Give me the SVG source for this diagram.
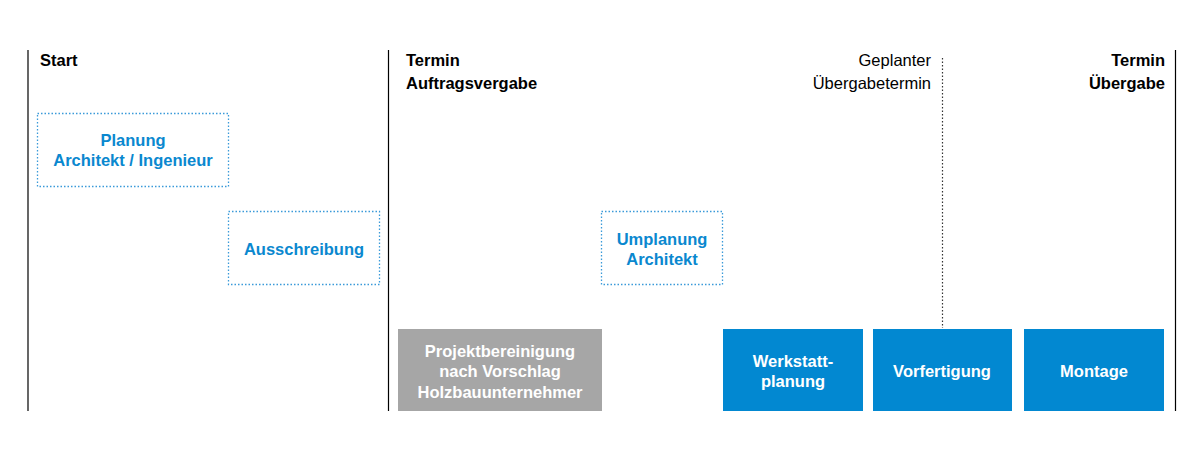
<svg xmlns="http://www.w3.org/2000/svg" width="1200" height="470" viewBox="0 0 1200 470">
<style>
text{font-family:"Liberation Sans",Arial,sans-serif;font-size:16.5px;font-weight:bold}
.h{fill:#000}
.n{font-weight:normal}
.dot{fill:#fff;stroke:#3a9ad9;stroke-width:1.3;stroke-dasharray:1.5 2}
.bt{fill:#0a88cf;text-anchor:middle}
.wt{fill:#fff;text-anchor:middle}
.fb{fill:#0288d1}
.fg{fill:#a6a6a6}
.ln{stroke:#000;stroke-width:1.2}
</style>
<rect width="1200" height="470" fill="#fff"/>
<g id="connectors">
<line class="ln" x1="28" y1="50" x2="28" y2="411"/>
<line class="ln" x1="388.5" y1="50" x2="388.5" y2="411"/>
<line class="ln" x1="1175.5" y1="50" x2="1175.5" y2="411"/>
<line x1="942.5" y1="58" x2="942.5" y2="328" stroke="#333" stroke-width="1.2" stroke-dasharray="1.5 2"/>
</g>
<g id="labels">
<text class="h" x="40" y="66">Start</text>
<text class="h" x="406" y="66">Termin</text>
<text class="h" x="406" y="89">Auftragsvergabe</text>
<text class="h n" x="931" y="66" text-anchor="end">Geplanter</text>
<text class="h n" x="931" y="89" text-anchor="end">Übergabetermin</text>
<text class="h" x="1165" y="66" text-anchor="end">Termin</text>
<text class="h" x="1165" y="89" text-anchor="end">Übergabe</text>
</g>
<g id="planung"><rect class="dot" x="37.5" y="113.5" width="191" height="73"/>
<text class="bt" x="133" y="146">Planung</text><text class="bt" x="133" y="166">Architekt / Ingenieur</text></g>
<g id="ausschreibung"><rect class="dot" x="228.5" y="211.5" width="151" height="73"/>
<text class="bt" x="304" y="255">Ausschreibung</text></g>
<g id="umplanung"><rect class="dot" x="601.5" y="211.5" width="121" height="73"/>
<text class="bt" x="662" y="245">Umplanung</text><text class="bt" x="662" y="265">Architekt</text></g>
<g id="projekt"><rect class="fg" x="398" y="329" width="204" height="82"/>
<text class="wt" x="500" y="357">Projektbereinigung</text><text class="wt" x="500" y="377">nach Vorschlag</text><text class="wt" x="500" y="398">Holzbauunternehmer</text></g>
<g id="werkstatt"><rect class="fb" x="723" y="329" width="140" height="82"/>
<text class="wt" x="793" y="367">Werkstatt-</text><text class="wt" x="793" y="387">planung</text></g>
<g id="vorfertigung"><rect class="fb" x="873" y="329" width="139" height="82"/>
<text class="wt" x="942" y="377">Vorfertigung</text></g>
<g id="montage"><rect class="fb" x="1024" y="329" width="140" height="82"/>
<text class="wt" x="1094" y="377">Montage</text></g>
</svg>
